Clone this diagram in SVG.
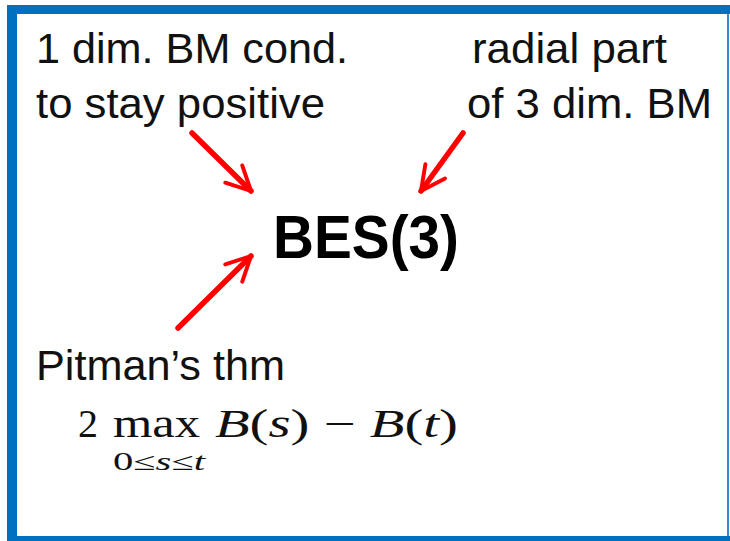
<svg xmlns="http://www.w3.org/2000/svg" width="730" height="541" viewBox="0 0 730 541">
  <style>
    .lbl { font-family: "Liberation Sans", Arial, sans-serif; font-size: 42px; fill: #111; }
    .ttl { font-family: "Liberation Sans", Arial, sans-serif; font-size: 62px; font-weight: bold; fill: #000; }
    .math { font-family: "Liberation Serif", "DejaVu Serif", serif; fill: #111; }
    .arrow { stroke: #ff0000; stroke-width: 5.5; fill: none; stroke-linecap: round; }
    .frame { fill: #0070c0; }
  </style>
  <defs>
    <marker id="head" viewBox="0 0 10 10" refX="9" refY="5" markerWidth="5.5" markerHeight="5.5" markerUnits="strokeWidth" orient="auto">
      <polyline points="1,1 9,5 1,9" fill="none" stroke="#ff0000" stroke-width="1.3" stroke-linecap="round" stroke-linejoin="round"/>
    </marker>
  </defs>
  <rect width="730" height="541" fill="#ffffff"/>
  <g id="frame">
    <rect class="frame" x="7" y="5" width="10" height="536"/>
    <rect class="frame" x="7" y="5" width="723" height="9"/>
    <rect class="frame" x="727" y="5" width="2" height="536" opacity="0.8"/>
    <rect class="frame" x="7" y="536" width="723" height="5"/>
  </g>
  <g id="connectors">
    <line class="arrow" x1="192" y1="133" x2="251" y2="191" marker-end="url(#head)"/>
    <line class="arrow" x1="463" y1="133" x2="421" y2="191" marker-end="url(#head)"/>
    <line class="arrow" x1="178" y1="328" x2="251" y2="256" marker-end="url(#head)"/>
  </g>
  <g id="node-bm1">
    <text class="lbl" x="36" y="63" textLength="312" lengthAdjust="spacingAndGlyphs">1 dim. BM cond.</text>
    <text class="lbl" x="36" y="118" textLength="289" lengthAdjust="spacingAndGlyphs">to stay positive</text>
  </g>
  <g id="node-radial">
    <text class="lbl" x="472" y="63" textLength="195" lengthAdjust="spacingAndGlyphs">radial part</text>
    <text class="lbl" x="467" y="118" textLength="245" lengthAdjust="spacingAndGlyphs">of 3 dim. BM</text>
  </g>
  <g id="node-bes">
    <text class="ttl" x="273" y="258" textLength="186" lengthAdjust="spacingAndGlyphs">BES(3)</text>
  </g>
  <g id="node-pitman">
    <text class="lbl" x="36" y="380" textLength="249" lengthAdjust="spacingAndGlyphs">Pitman’s thm</text>
    <text class="math" x="78" y="437" font-size="40">2</text>
    <text class="math" x="113" y="437" font-size="40" textLength="87" lengthAdjust="spacingAndGlyphs">max</text>
    <text class="math" x="113" y="470" font-size="25" textLength="92" lengthAdjust="spacingAndGlyphs">0≤<tspan font-style="italic">s</tspan>≤<tspan font-style="italic">t</tspan></text>
    <text class="math" x="215" y="437" font-size="40" textLength="243" lengthAdjust="spacingAndGlyphs"><tspan font-style="italic">B</tspan>(<tspan font-style="italic">s</tspan>) − <tspan font-style="italic">B</tspan>(<tspan font-style="italic">t</tspan>)</text>
  </g>
</svg>
